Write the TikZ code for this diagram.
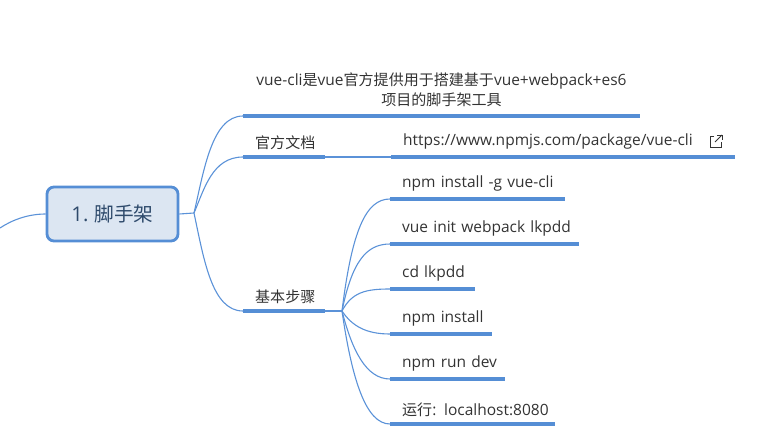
\documentclass[tikz,border=0pt]{standalone}
\usepackage{fontspec}
\setmainfont[WordSpace=0.8]{Open Sans}
\newfontfamily\cjk[Scale=0.97]{Noto Sans CJK SC}
\usetikzlibrary{positioning, calc}
\definecolor{mapLine}{HTML}{5B92D8}
\definecolor{mapBar}{HTML}{558ED5}
\definecolor{rootFill}{HTML}{DCE6F2}
\definecolor{rootText}{HTML}{2E4A6B}
\definecolor{leafText}{HTML}{333333}

\begin{document}
\begin{tikzpicture}[
  x=1pt, y=-1pt,
  root/.style   ={rounded corners=7pt, draw=mapBar, fill=rootFill, text=rootText, line width=2.8pt,
                  minimum width=131pt, minimum height=54pt, inner sep=0pt, font=\fontsize{20.3}{23}\selectfont},
  leaf/.style   ={anchor=south west, text=leafText, inner xsep=12pt, inner ysep=7.5pt, align=left,
                  font=\fontsize{15.5}{19}\selectfont},
  bar/.style    ={draw=mapBar, line width=3.4pt},
  link/.style   ={draw=mapLine, line width=1.1pt},
  icon/.style   ={draw=leafText, line width=1pt},
]
\useasboundingbox (0,0) rectangle (780,439);

% ----- Root -----
\node[root] (ROOT) at (112.5,214) {1. {\cjk 脚手架}};
\coordinate (rootIn) at (0,228);
\coordinate (fork) at (194,213);
\coordinate (stepFork) at (342,311);

% ----- First level -----
\node[anchor=south, text=leafText, align=center, inner sep=0pt, font=\fontsize{15.5}{20}\selectfont] (INTRO) at (441.5,107)
  {vue-cli{\cjk 是}vue{\cjk 官方提供用于搭建基于}vue+webpack+es6\\{\cjk 项目的脚手架工具}};
\coordinate (introL) at (243,116);
\coordinate (introR) at (640,116);

\node[leaf, text width=58pt] (DOCS) at (243,157) {\cjk 官方文档};
\node[leaf, text width=58pt] (STEPS) at (243,311) {\cjk 基本步骤};
\node[leaf, text width=320pt] (URL) at (391,157) {https://www.npmjs.com/package/vue-cli};

% ----- Steps -----
\node[leaf, text width=151pt] (S1) at (390,199) {\mbox{npm install -g vue-cli}};
\node[leaf, text width=165pt] (S2) at (390,244) {\mbox{vue init webpack lkpdd}};
\node[leaf, text width=61pt]  (S3) at (390,289) {\mbox{cd lkpdd}};
\node[leaf, text width=78pt]  (S4) at (390,334) {\mbox{npm install}};
\node[leaf, text width=91pt]  (S5) at (390,379) {\mbox{npm run dev}};
\node[leaf, text width=141pt] (S6) at (390,424) {\mbox{{\cjk 运行}: localhost:8080}};

% ----- Underlines -----
\draw[bar] (introL) -- (introR);
\foreach \n in {DOCS, STEPS, URL, S1, S2, S3, S4, S5, S6}
  \draw[bar] (\n.south west) -- (\n.south east);

% ----- Connectors -----
\draw[link] (ROOT.west) .. controls (28,214) and (12,220) .. (rootIn);
\draw[link] (ROOT.east) -- (fork);
\draw[link] (fork) .. controls (204,170) and (212,116) .. (introL);
\draw[link] (fork) .. controls (204,190) and (212,157) .. (DOCS.south west);
\draw[link] (fork) .. controls (204,260) and (212,311) .. (STEPS.south west);
\draw[link] (DOCS.south east) -- (URL.south west);
\draw[link] (STEPS.south east) -- (stepFork);
\foreach \n/\c in {S1/230, S2/262, S3/292, S4/326, S5/350, S6/380}
  \draw[link] (stepFork) .. controls (352,\c) and ($(\n.south west)+(-24,0)$) .. (\n.south west);

% ----- External link mark -----
\draw[icon] (714,136) -- (710,136) -- (710,147) -- (721,147) -- (721,142);
\draw[icon] (715,142) -- (722,135);
\draw[icon] (717,135) -- (722,135) -- (722,140);
\end{tikzpicture}
\end{document}
